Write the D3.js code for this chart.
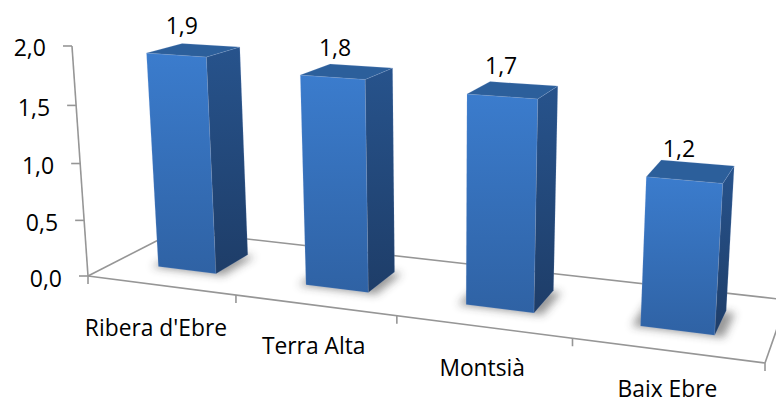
<!DOCTYPE html>
<html><head><meta charset="utf-8">
<script src="https://d3js.org/d3.v7.min.js"></script>
<style>html,body{margin:0;padding:0;background:#fff}svg{display:block}text{font-family:"Open Sans",sans-serif;fill:#000}</style>
</head><body><div id="c"></div>
<script>
const categories = ["Ribera d'Ebre","Terra Alta","Montsià","Baix Ebre"];
const values = [1.9,1.8,1.74,1.2];
const valueLabels = ["1,9","1,8","1,7","1,2"];
const yTicks = [0,0.5,1,1.5,2];
const yTickLabels = ["0,0","0,5","1,0","1,5","2,0"];

const W=776,H=402;
const svg=d3.select("#c").append("svg").attr("width",W).attr("height",H);
const defs=svg.append("defs");

// perspective camera: floor quad corners and vertical vanishing point
const Q=[[88,276],[765,363],[787,300],[176,231]];
const VP=[445,5400], K=-0.02148;
const hom=(()=>{const [[x0,y0],[x1,y1],[x2,y2],[x3,y3]]=Q;
 const dx1=x1-x2,dx2=x3-x2,sx=x0-x1+x2-x3,dy1=y1-y2,dy2=y3-y2,sy=y0-y1+y2-y3;
 const den=dx1*dy2-dx2*dy1,g=(sx*dy2-dx2*sy)/den,h=(dx1*sy-sx*dy1)/den;
 return {a:x1-x0+g*x1,b:x3-x0+h*x3,c:x0,d:y1-y0+g*y1,e:y3-y0+h*y3,f:y0,g,h};})();
const x=d3.scaleBand().domain(categories).range([0,1]).paddingInner(0.6).paddingOuter(0.3);
const xEdge=d3.scaleLinear().domain([0,categories.length]).range([0,1]);
const y=d3.scaleLinear().domain([0,2]).range([0,2]);
function P(s,t,v){const m=hom,val=y(v||0)*K;
 const w=m.g*s+m.h*t+1+val;
 return [(m.a*s+m.b*t+m.c+val*VP[0])/w,(m.d*s+m.e*t+m.f+val*VP[1])/w];}
const poly=pts=>pts.map(p=>p.map(n=>n.toFixed(1)).join(",")).join(" ");

function grad(id,a,b){const g=defs.append("linearGradient").attr("id",id).attr("x1",0).attr("y1",0).attr("x2",0).attr("y2",1);
 g.append("stop").attr("offset",0).attr("stop-color",a);g.append("stop").attr("offset",1).attr("stop-color",b);}
grad("front","#3b7ccd","#2f62a4");grad("side","#27538c","#1e3d68");
defs.append("filter").attr("id","blur").attr("x","-40%").attr("y","-80%").attr("width","180%").attr("height","260%").append("feGaussianBlur").attr("stdDeviation",4.5);

const axisC="#969696";
const line=(a,b)=>svg.append("line").attr("x1",a[0]).attr("y1",a[1]).attr("x2",b[0]).attr("y2",b[1]).attr("stroke",axisC).attr("stroke-width",1.6);
// floor
line(P(0,0),P(1,0));line(P(1,0),P(1,1));line(P(1,1),P(0,1));line(P(0,1),P(0,0));
// value axis
line(P(0,0,0),P(0,0,2));
yTicks.forEach((v,i)=>{const p=P(0,0,v);
 line(p,[p[0]-9,p[1]]);
 svg.append("text").attr("x",p[0]-26).attr("y",p[1]+10.5).attr("text-anchor","end").attr("font-size",23).text(yTickLabels[i]);});
// category ticks
d3.range(categories.length+1).forEach(i=>{const p=P(xEdge(i),0);line(p,[p[0],p[1]+8]);});
const labelOff=[[-4.5,51],[-1,49],[-0.5,49],[1,47]];
const valOff=[-16,-16,-16,-14];
// bars
const dep0=0.3,dep1=0.7,spread=0.012;
categories.forEach((c,i)=>{
 const s0=x(c),s1=s0+x.bandwidth(),v=values[i];
 const FLb=P(s0,dep0),FRb=P(s1,dep0),BRb=P(s1,dep1),BLb=P(s0,dep1);
 const FLt=P(s0,dep0,v),FRt=P(s1,dep0,v),BRt=P(s1,dep1,v),BLt=P(s0,dep1,v);
 svg.append("polygon").attr("points",poly([P(s0-spread,dep0),P(s1+spread,dep0),P(s1+spread,dep1),P(s0-spread,dep1)])).attr("fill","#333").attr("opacity",.5).attr("filter","url(#blur)").attr("transform","translate(0,1)");
 const edge=s=>s.attr("stroke","#a9c2e4").attr("stroke-opacity",.2).attr("stroke-width",.8);
 svg.append("polygon").attr("points",poly([FLt,FRt,FRb,FLb])).attr("fill","url(#front)").call(edge);
 svg.append("polygon").attr("points",poly([FRt,BRt,BRb,FRb])).attr("fill","url(#side)").call(edge);
 svg.append("polygon").attr("points",poly([FLt,BLt,BRt,FRt])).attr("fill","#2c5f9b").call(edge);
 const tc=P((s0+s1)/2,(dep0+dep1)/2,v);
 svg.append("text").attr("x",tc[0]-12).attr("y",tc[1]+valOff[i]).attr("text-anchor","middle").attr("font-size",23).text(valueLabels[i]);
 const bc=P((s0+s1)/2,0);
 svg.append("text").attr("x",bc[0]+labelOff[i][0]).attr("y",bc[1]+labelOff[i][1]).attr("text-anchor","middle").attr("font-size",22.8).text(c);
});
</script></body></html>
